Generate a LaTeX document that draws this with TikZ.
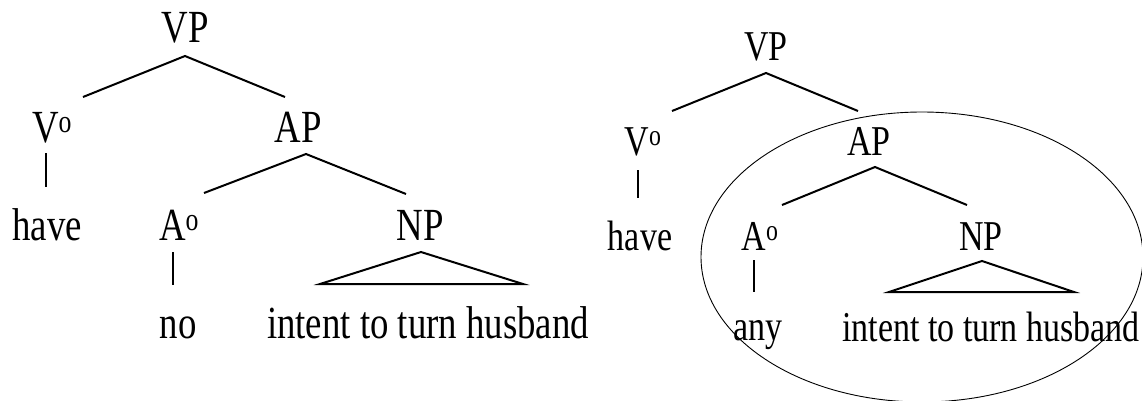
\documentclass[tikz,border=0pt]{standalone}
\usepackage{fontspec}
\setmainfont[FakeStretch=0.8]{Liberation Serif}
\usetikzlibrary{shapes.geometric}
\tikzset{
  cat/.style={anchor=base,inner sep=0pt,font=\fontsize{46}{50}\selectfont},
  catsm/.style={anchor=base,inner sep=0pt,font=\fontsize{42.5}{47}\selectfont},
  branch/.style={line width=2pt,line join=miter},
  ring/.style={draw,ellipse,line width=0.9pt,inner sep=0pt,
    minimum width=442pt,minimum height=290pt}
}

\begin{document}
\begin{tikzpicture}[x=1pt,y=-1pt]
  \useasboundingbox (0,0) rectangle (1142,400);
  % left tree: have no intent ...
  \node[cat] (vpA)   at (185,42)  {VP};
  \node[cat] (vA)    at (52,142)  {V\textsuperscript{o}};
  \node[cat] (apA)   at (298,142) {AP};
  \node[cat] (haveA) at (47,240)  {have};
  \node[cat] (aA)    at (179,240) {A\textsuperscript{o}};
  \node[cat] (npA)   at (420,240) {NP};
  \node[cat] (noA)   at (178,338) {no};
  \node[cat] (intA)  at (428,338) {intent to turn husband};
  \coordinate (vpA-t) at (185,56);
  \coordinate (vpA-l) at (83,97);
  \coordinate (vpA-r) at (285,97);
  \coordinate (vA-t)  at (46,153);
  \coordinate (vA-b)  at (46,187);
  \coordinate (apA-t) at (306,154);
  \coordinate (apA-l) at (204,193);
  \coordinate (apA-r) at (406,194);
  \coordinate (aA-t)  at (173,252);
  \coordinate (aA-b)  at (173,285);
  \coordinate (npA-t) at (421,252);
  \coordinate (npA-l) at (320,284);
  \coordinate (npA-r) at (523,284);
  \draw[branch] (vpA-l) -- (vpA-t) -- (vpA-r);
  \draw[branch] (vA-t) -- (vA-b);
  \draw[branch] (apA-l) -- (apA-t) -- (apA-r);
  \draw[branch] (aA-t) -- (aA-b);
  \draw[branch] (npA-l) -- (npA-t) -- (npA-r) -- cycle;

  % right tree: have any intent ..., AP ringed
  \node[catsm] (vpB)   at (766,60)  {VP};
  \node[catsm] (vB)    at (643,155) {V\textsuperscript{o}};
  \node[catsm] (apB)   at (869,155) {AP};
  \node[catsm] (haveB) at (640,250) {have};
  \node[catsm] (aB)    at (760,250) {A\textsuperscript{o}};
  \node[catsm] (npB)   at (981,250) {NP};
  \node[catsm] (anyB)  at (758,340) {any};
  \node[catsm] (intB)  at (991,341) {intent to turn husband};
  \coordinate (vpB-t) at (766,73);
  \coordinate (vpB-l) at (672,111);
  \coordinate (vpB-r) at (858,111);
  \coordinate (vB-t)  at (638,170);
  \coordinate (vB-b)  at (638,198);
  \coordinate (apB-t) at (875,167);
  \coordinate (apB-l) at (782,205);
  \coordinate (apB-r) at (967,205);
  \coordinate (aB-t)  at (754,260);
  \coordinate (aB-b)  at (754,292);
  \coordinate (npB-t) at (982,261);
  \coordinate (npB-l) at (889,292);
  \coordinate (npB-r) at (1074,292);
  \draw[branch] (vpB-l) -- (vpB-t) -- (vpB-r);
  \draw[branch] (vB-t) -- (vB-b);
  \draw[branch] (apB-l) -- (apB-t) -- (apB-r);
  \draw[branch] (aB-t) -- (aB-b);
  \draw[branch] (npB-l) -- (npB-t) -- (npB-r) -- cycle;
  \node[ring] (apRing) at (922,257) {};
\end{tikzpicture}
\end{document}
